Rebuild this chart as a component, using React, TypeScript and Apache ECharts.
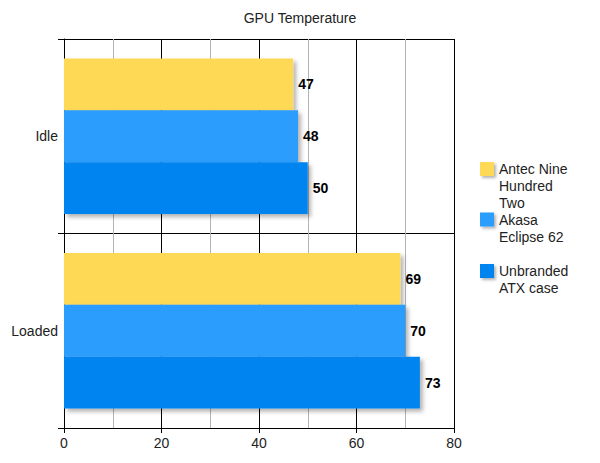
import { useEffect, useRef } from 'react'
import * as echarts from 'echarts'

const categories = ['Idle', 'Loaded']
const seriesNames = ['Antec Nine Hundred Two', 'Akasa Eclipse 62', 'Unbranded ATX case']
const legendLines = [['Antec Nine', 'Hundred', 'Two'], ['Akasa', 'Eclipse 62'], ['Unbranded', 'ATX case']]
const antecValues = [47, 69]
const akasaValues = [48, 70]
const unbrandedValues = [50, 73]
const colors = ['#FDD955', '#2B9DFD', '#0085F0']

const FONT = "'Liberation Sans', Arial, sans-serif"

export default function App() {
  const chartRef = useRef<HTMLDivElement>(null)

  useEffect(() => {
    if (!chartRef.current) return
    document.body.style.margin = '0'
    const chart = echarts.init(chartRef.current, null, { renderer: 'svg' })

    const values = [antecValues, akasaValues, unbrandedValues]
    const shadow = {
      shadowColor: 'rgba(0, 0, 0, 0.3)',
      shadowBlur: 4,
      shadowOffsetX: 3,
      shadowOffsetY: 3
    }

    // 每个图例单独放置；前面补空行，使首行与色块居中对齐
    const legendTops = [126.5, 194, 245.5]
    const legends = seriesNames.map((name, i) => {
      const lines = legendLines[i]
      const label = '\n'.repeat(lines.length - 1) + lines.join('\n')
      return {
        orient: 'vertical',
        left: 480,
        top: legendTops[i],
        padding: 0,
        itemWidth: 14,
        itemHeight: 14,
        icon: 'rect',
        selectedMode: false,
        formatter: () => label,
        textStyle: { fontFamily: FONT, fontSize: 14, lineHeight: 17, color: '#222' },
        itemStyle: { ...shadow, shadowBlur: 3, shadowOffsetX: 2, shadowOffsetY: 2 },
        data: [name]
      }
    })

    const option = {
      animation: false,
      textStyle: { fontFamily: FONT },
      title: {
        text: 'GPU Temperature',
        left: 'center',
        top: 11,
        padding: 0,
        textStyle: { fontFamily: FONT, fontSize: 14, fontWeight: 'normal', color: '#222' }
      },
      legend: legends,
      grid: { left: 64, right: 146, top: 39, bottom: 35, containLabel: false },
      xAxis: {
        type: 'value',
        min: 0,
        max: 80,
        interval: 20,
        axisLine: { show: true, lineStyle: { color: '#000', width: 1 } },
        axisTick: { show: true, length: 5, lineStyle: { color: '#000' } },
        axisLabel: { fontFamily: FONT, fontSize: 14, color: '#222', margin: 8 },
        splitLine: { show: true, lineStyle: { color: '#000', width: 1 } },
        minorTick: { show: false, splitNumber: 2 },
        minorSplitLine: { show: true, lineStyle: { color: '#b4b4b4', width: 1 } }
      },
      yAxis: {
        type: 'category',
        inverse: true,
        data: categories,
        axisLine: { show: true, lineStyle: { color: '#000', width: 1 } },
        axisTick: { show: true, length: 6, lineStyle: { color: '#000' } },
        axisLabel: { fontFamily: FONT, fontSize: 14, color: '#222', margin: 6 },
        splitLine: { show: true, lineStyle: { color: '#000', width: 1 } }
      },
      series: seriesNames.map((name, i) => ({
        name,
        type: 'bar',
        data: values[i],
        barGap: '0%',
        barCategoryGap: '20%',
        itemStyle: { color: colors[i], ...shadow },
        label: {
          show: true,
          position: 'right',
          distance: 5,
          fontFamily: FONT,
          fontSize: 14,
          fontWeight: 'bold',
          color: '#000'
        }
      }))
    }

    chart.setOption(option)

    return () => {
      chart.dispose()
    }
  }, [])

  return <div ref={chartRef} style={{ width: 600, height: 463 }} />
}
